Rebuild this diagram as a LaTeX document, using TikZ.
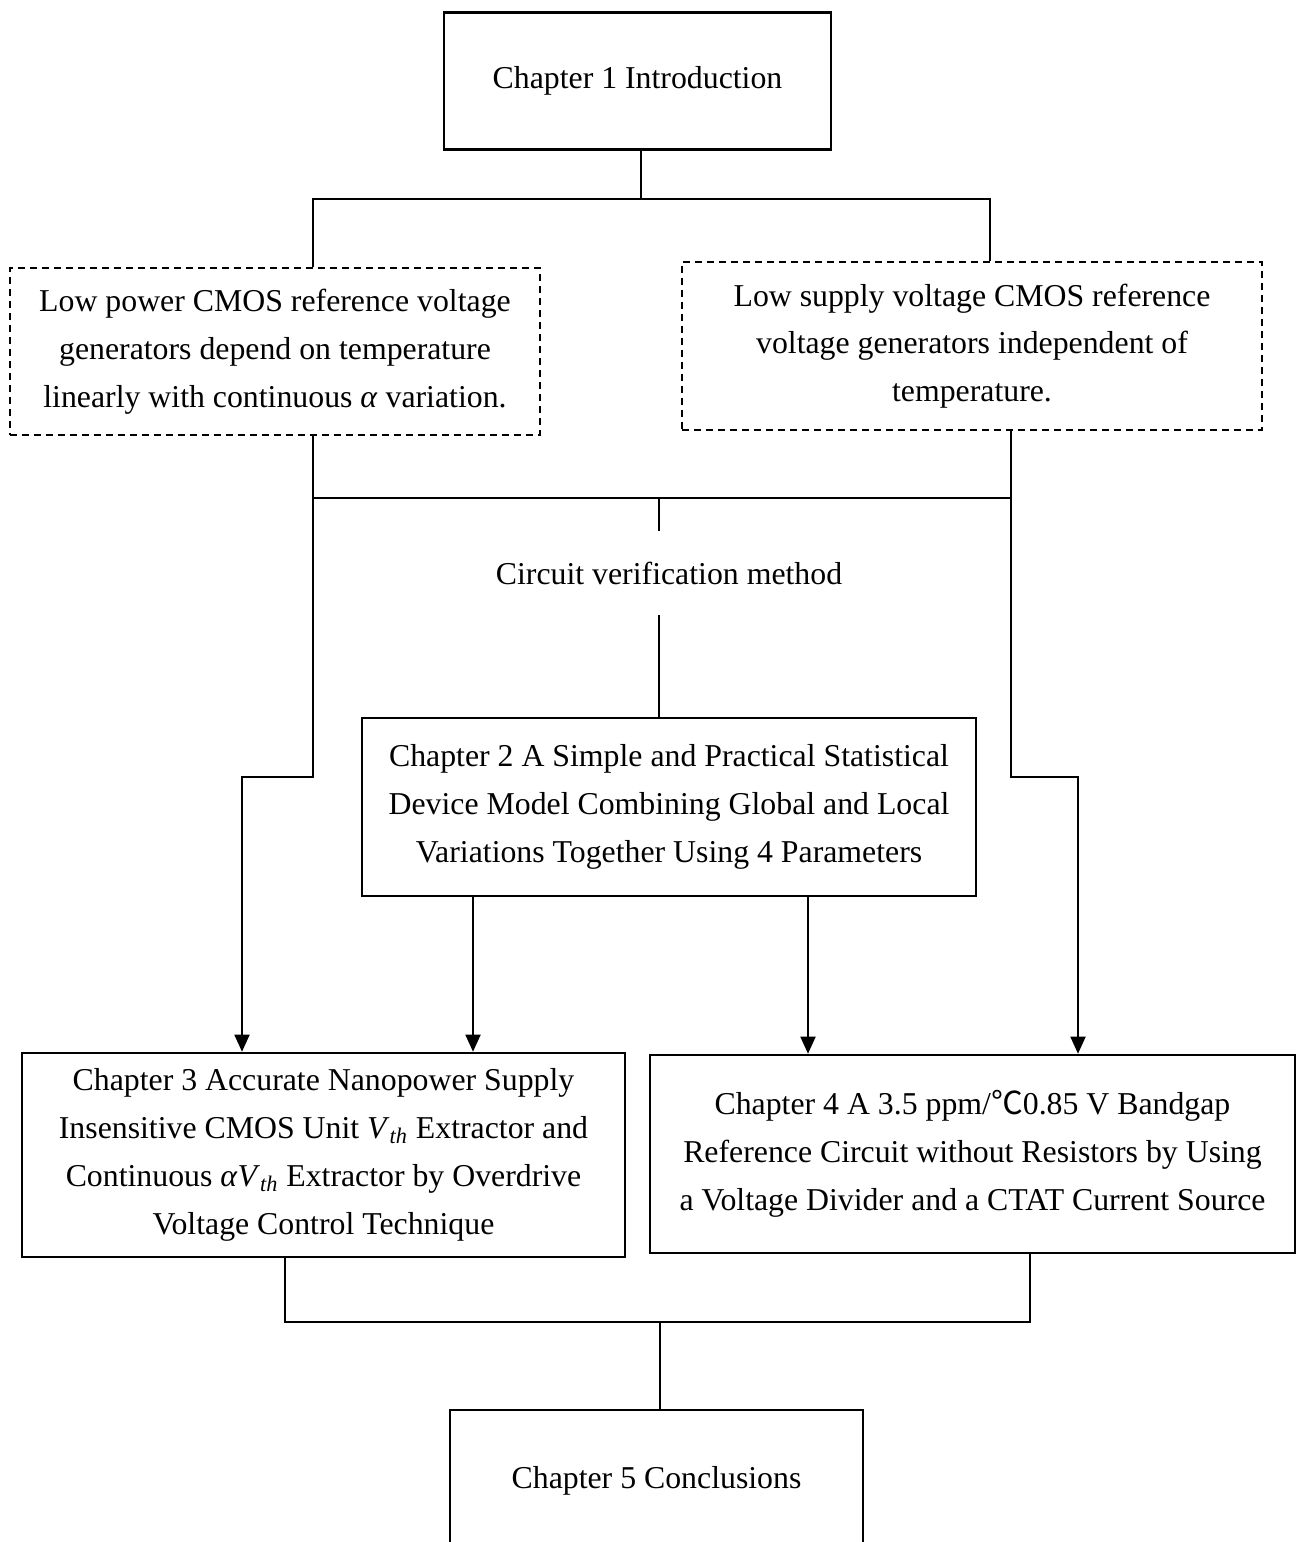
\documentclass[tikz,border=0pt]{standalone}
\usepackage{fontspec}
\setmainfont{Liberation Serif}
\newfontfamily\cjkfont{Noto Sans CJK SC}
\usetikzlibrary{arrows.meta}
\newcommand{\Vth}{\textit{V}\textsubscript{\textit{th}}}
\tikzset{
    chap/.style={draw, line width=1.3pt, align=center, inner sep=0pt, font=\fontsize{15.9}{23.9}\selectfont},
    dbox/.style={chap, line width=0.8pt, dash pattern=on 3.5pt off 2.5pt},
    link/.style={line width=0.9pt},
    arr/.style={link, -{Triangle[length=8.5pt,width=7.5pt]}}
}

\begin{document}
\begin{tikzpicture}[x=0.5pt,y=-0.5pt]
\useasboundingbox (0,0) rectangle (1297,1542);
\clip (0,0) rectangle (1297,1542);
\node[chap, minimum width=193.5pt, minimum height=68.5pt] (ch1) at (637.5,81) {Chapter 1 Introduction};
\node[dbox, minimum width=265pt, minimum height=83.5pt] (low) at (275,351.5)
    {Low power CMOS reference voltage\\generators depend on temperature\\linearly with continuous \textit{α} variation.};
\node[dbox, minimum width=290pt, minimum height=84pt] (sup) at (972,346)
    {Low supply voltage CMOS reference\\voltage generators independent of\\temperature.};
\node[chap, draw=none, minimum height=41pt] (cvm) at (669,573) {Circuit verification method};
\node[chap, minimum width=307pt, minimum height=89pt] (ch2) at (669,807)
    {Chapter 2 A Simple and Practical Statistical\\Device Model Combining Global and Local\\Variations Together Using 4 Parameters};
\node[chap, minimum width=301.5pt, minimum height=102pt] (ch3) at (323.5,1155)
    {Chapter 3 Accurate Nanopower Supply\\Insensitive CMOS Unit \Vth{} Extractor and\\Continuous \textit{α}\Vth{} Extractor by Overdrive\\Voltage Control Technique};
\node[chap, minimum width=322.5pt, minimum height=99pt] (ch4) at (972.5,1154)
    {Chapter 4 A 3.5 ppm/{\cjkfont ℃}0.85 V Bandgap\\Reference Circuit without Resistors by Using\\a Voltage Divider and a CTAT Current Source};
\node[chap, minimum width=206.5pt, minimum height=71pt] (ch5) at (656.5,1481) {Chapter 5 Conclusions};

% joints
\coordinate (t1) at (641,199);
\coordinate (la) at (313,199);
\coordinate (ra) at (990,199);
\coordinate (lb) at (313,498);
\coordinate (mb) at (659,498);
\coordinate (rb) at (1011,498);
\coordinate (lc) at (313,777);
\coordinate (ld) at (242,777);
\coordinate (rc) at (1011,777);
\coordinate (rd) at (1078,777);
\coordinate (x3) at (473,0);
\coordinate (x4) at (808,0);
\coordinate (b3) at (285,1322);
\coordinate (b5) at (660,1322);
\coordinate (b4) at (1030,1322);

\draw[link] (ch1.south -| t1) -- (t1);
\draw[link] (low.north -| la) -- (la) -- (ra) -- (sup.north -| ra);
\draw[link] (low.south -| lb) -- (lb) -- (rb) -- (sup.south -| rb);
\draw[link] (mb) -- (cvm.north -| mb);
\draw[link] (cvm.south -| mb) -- (ch2.north -| mb);
\draw[arr] (lb) -- (lc) -- (ld) -- (ch3.north -| ld);
\draw[arr] (rb) -- (rc) -- (rd) -- (ch4.north -| rd);
\draw[arr] (ch2.south -| x3) -- (ch3.north -| x3);
\draw[arr] (ch2.south -| x4) -- (ch4.north -| x4);
\draw[link] (ch3.south -| b3) -- (b3) -- (b4) -- (ch4.south -| b4);
\draw[link] (b5) -- (ch5.north -| b5);
\end{tikzpicture}
\end{document}
